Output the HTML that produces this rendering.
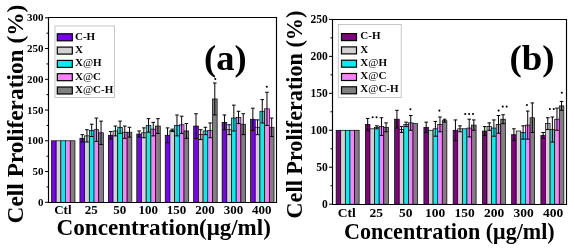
<!DOCTYPE html>
<html><head><meta charset="utf-8"><style>html,body{margin:0;padding:0;background:#fff;width:575px;height:250px;overflow:hidden}svg{display:block;filter:blur(0.35px)}</style></head>
<body><svg width="575" height="250" viewBox="0 0 575 250">
<rect width="575" height="250" fill="#fff"/>
<rect x="51.47" y="140.80" width="4.70" height="61.50" fill="#7b00f0" stroke="#000" stroke-width="0.7"/>
<rect x="56.17" y="140.80" width="4.70" height="61.50" fill="#d2d0d0" stroke="#000" stroke-width="0.7"/>
<rect x="60.87" y="140.80" width="4.70" height="61.50" fill="#00eeee" stroke="#000" stroke-width="0.7"/>
<rect x="65.57" y="140.80" width="4.70" height="61.50" fill="#ff80ff" stroke="#000" stroke-width="0.7"/>
<rect x="70.27" y="140.80" width="4.70" height="61.50" fill="#808080" stroke="#000" stroke-width="0.7"/>
<rect x="79.91" y="138.34" width="4.70" height="63.96" fill="#7b00f0" stroke="#000" stroke-width="0.7"/>
<rect x="84.61" y="135.88" width="4.70" height="66.42" fill="#d2d0d0" stroke="#000" stroke-width="0.7"/>
<rect x="89.31" y="130.35" width="4.70" height="71.95" fill="#00eeee" stroke="#000" stroke-width="0.7"/>
<rect x="94.01" y="129.73" width="4.70" height="72.57" fill="#ff80ff" stroke="#000" stroke-width="0.7"/>
<rect x="98.71" y="132.81" width="4.70" height="69.50" fill="#808080" stroke="#000" stroke-width="0.7"/>
<path d="M82.26 134.65V142.03M80.46 134.65H84.06M80.46 142.03H84.06" stroke="#000" stroke-width="1" fill="none"/>
<path d="M86.96 129.73V142.03M85.16 129.73H88.76M85.16 142.03H88.76" stroke="#000" stroke-width="1" fill="none"/>
<path d="M91.66 124.20V136.50M89.86 124.20H93.46M89.86 136.50H93.46" stroke="#000" stroke-width="1" fill="none"/>
<path d="M96.36 118.05V141.42M94.56 118.05H98.16M94.56 141.42H98.16" stroke="#000" stroke-width="1" fill="none"/>
<path d="M101.06 121.12V144.49M99.26 121.12H102.86M99.26 144.49H102.86" stroke="#000" stroke-width="1" fill="none"/>
<rect x="108.34" y="135.27" width="4.70" height="67.03" fill="#7b00f0" stroke="#000" stroke-width="0.7"/>
<rect x="113.04" y="130.96" width="4.70" height="71.34" fill="#d2d0d0" stroke="#000" stroke-width="0.7"/>
<rect x="117.74" y="127.27" width="4.70" height="75.03" fill="#00eeee" stroke="#000" stroke-width="0.7"/>
<rect x="122.44" y="132.19" width="4.70" height="70.11" fill="#ff80ff" stroke="#000" stroke-width="0.7"/>
<rect x="127.14" y="132.19" width="4.70" height="70.11" fill="#808080" stroke="#000" stroke-width="0.7"/>
<path d="M110.69 131.58V138.96M108.89 131.58H112.49M108.89 138.96H112.49" stroke="#000" stroke-width="1" fill="none"/>
<path d="M115.39 126.04V135.88M113.59 126.04H117.19M113.59 135.88H117.19" stroke="#000" stroke-width="1" fill="none"/>
<path d="M120.09 121.12V133.42M118.29 121.12H121.89M118.29 133.42H121.89" stroke="#000" stroke-width="1" fill="none"/>
<path d="M124.79 126.04V138.34M122.99 126.04H126.59M122.99 138.34H126.59" stroke="#000" stroke-width="1" fill="none"/>
<path d="M129.49 127.27V137.11M127.69 127.27H131.29M127.69 137.11H131.29" stroke="#000" stroke-width="1" fill="none"/>
<rect x="136.78" y="134.04" width="4.70" height="68.26" fill="#7b00f0" stroke="#000" stroke-width="0.7"/>
<rect x="141.48" y="132.81" width="4.70" height="69.50" fill="#d2d0d0" stroke="#000" stroke-width="0.7"/>
<rect x="146.18" y="125.43" width="4.70" height="76.88" fill="#00eeee" stroke="#000" stroke-width="0.7"/>
<rect x="150.88" y="129.12" width="4.70" height="73.19" fill="#ff80ff" stroke="#000" stroke-width="0.7"/>
<rect x="155.58" y="126.04" width="4.70" height="76.26" fill="#808080" stroke="#000" stroke-width="0.7"/>
<path d="M139.13 130.96V137.11M137.33 130.96H140.93M137.33 137.11H140.93" stroke="#000" stroke-width="1" fill="none"/>
<path d="M143.83 127.89V137.72M142.03 127.89H145.63M142.03 137.72H145.63" stroke="#000" stroke-width="1" fill="none"/>
<path d="M148.53 118.66V132.19M146.73 118.66H150.33M146.73 132.19H150.33" stroke="#000" stroke-width="1" fill="none"/>
<path d="M153.23 122.35V135.88M151.43 122.35H155.03M151.43 135.88H155.03" stroke="#000" stroke-width="1" fill="none"/>
<path d="M157.93 118.66V133.42M156.13 118.66H159.73M156.13 133.42H159.73" stroke="#000" stroke-width="1" fill="none"/>
<rect x="165.22" y="135.27" width="4.70" height="67.03" fill="#7b00f0" stroke="#000" stroke-width="0.7"/>
<rect x="169.92" y="130.35" width="4.70" height="71.95" fill="#d2d0d0" stroke="#000" stroke-width="0.7"/>
<rect x="174.62" y="125.43" width="4.70" height="76.88" fill="#00eeee" stroke="#000" stroke-width="0.7"/>
<rect x="179.32" y="124.81" width="4.70" height="77.49" fill="#ff80ff" stroke="#000" stroke-width="0.7"/>
<rect x="184.02" y="130.96" width="4.70" height="71.34" fill="#808080" stroke="#000" stroke-width="0.7"/>
<path d="M167.57 127.89V142.65M165.77 127.89H169.37M165.77 142.65H169.37" stroke="#000" stroke-width="1" fill="none"/>
<path d="M172.27 129.12V131.58M170.47 129.12H174.07M170.47 131.58H174.07" stroke="#000" stroke-width="1" fill="none"/>
<path d="M176.97 114.97V135.88M175.17 114.97H178.77M175.17 135.88H178.77" stroke="#000" stroke-width="1" fill="none"/>
<path d="M181.67 116.20V133.42M179.87 116.20H183.47M179.87 133.42H183.47" stroke="#000" stroke-width="1" fill="none"/>
<path d="M186.37 123.58V138.34M184.57 123.58H188.17M184.57 138.34H188.17" stroke="#000" stroke-width="1" fill="none"/>
<rect x="193.66" y="126.04" width="4.70" height="76.26" fill="#7b00f0" stroke="#000" stroke-width="0.7"/>
<rect x="198.36" y="134.65" width="4.70" height="67.65" fill="#d2d0d0" stroke="#000" stroke-width="0.7"/>
<rect x="203.06" y="130.96" width="4.70" height="71.34" fill="#00eeee" stroke="#000" stroke-width="0.7"/>
<rect x="207.76" y="130.35" width="4.70" height="71.95" fill="#ff80ff" stroke="#000" stroke-width="0.7"/>
<rect x="212.46" y="98.98" width="4.70" height="103.32" fill="#808080" stroke="#000" stroke-width="0.7"/>
<path d="M196.01 113.74V138.34M194.21 113.74H197.81M194.21 138.34H197.81" stroke="#000" stroke-width="1" fill="none"/>
<path d="M200.71 129.73V139.57M198.91 129.73H202.51M198.91 139.57H202.51" stroke="#000" stroke-width="1" fill="none"/>
<path d="M205.41 127.27V134.65M203.61 127.27H207.21M203.61 134.65H207.21" stroke="#000" stroke-width="1" fill="none"/>
<path d="M210.11 122.97V137.73M208.31 122.97H211.91M208.31 137.73H211.91" stroke="#000" stroke-width="1" fill="none"/>
<path d="M214.81 82.99V114.97M213.01 82.99H216.61M213.01 114.97H216.61" stroke="#000" stroke-width="1" fill="none"/>
<rect x="222.09" y="122.35" width="4.70" height="79.95" fill="#7b00f0" stroke="#000" stroke-width="0.7"/>
<rect x="226.79" y="129.73" width="4.70" height="72.57" fill="#d2d0d0" stroke="#000" stroke-width="0.7"/>
<rect x="231.49" y="118.05" width="4.70" height="84.25" fill="#00eeee" stroke="#000" stroke-width="0.7"/>
<rect x="236.19" y="117.43" width="4.70" height="84.87" fill="#ff80ff" stroke="#000" stroke-width="0.7"/>
<rect x="240.89" y="124.20" width="4.70" height="78.11" fill="#808080" stroke="#000" stroke-width="0.7"/>
<path d="M224.44 114.97V129.73M222.64 114.97H226.24M222.64 129.73H226.24" stroke="#000" stroke-width="1" fill="none"/>
<path d="M229.14 124.81V134.65M227.34 124.81H230.94M227.34 134.65H230.94" stroke="#000" stroke-width="1" fill="none"/>
<path d="M233.84 105.13V130.96M232.04 105.13H235.64M232.04 130.96H235.64" stroke="#000" stroke-width="1" fill="none"/>
<path d="M238.54 111.28V123.58M236.74 111.28H240.34M236.74 123.58H240.34" stroke="#000" stroke-width="1" fill="none"/>
<path d="M243.24 113.74V134.65M241.44 113.74H245.04M241.44 134.65H245.04" stroke="#000" stroke-width="1" fill="none"/>
<rect x="250.53" y="119.28" width="4.70" height="83.03" fill="#7b00f0" stroke="#000" stroke-width="0.7"/>
<rect x="255.23" y="127.27" width="4.70" height="75.03" fill="#d2d0d0" stroke="#000" stroke-width="0.7"/>
<rect x="259.93" y="111.28" width="4.70" height="91.02" fill="#00eeee" stroke="#000" stroke-width="0.7"/>
<rect x="264.63" y="108.82" width="4.70" height="93.48" fill="#ff80ff" stroke="#000" stroke-width="0.7"/>
<rect x="269.33" y="127.27" width="4.70" height="75.03" fill="#808080" stroke="#000" stroke-width="0.7"/>
<path d="M252.88 108.21V130.34M251.08 108.21H254.68M251.08 130.34H254.68" stroke="#000" stroke-width="1" fill="none"/>
<path d="M257.58 119.89V134.65M255.78 119.89H259.38M255.78 134.65H259.38" stroke="#000" stroke-width="1" fill="none"/>
<path d="M262.28 99.60V122.97M260.48 99.60H264.08M260.48 122.97H264.08" stroke="#000" stroke-width="1" fill="none"/>
<path d="M266.98 92.22V125.43M265.18 92.22H268.78M265.18 125.43H268.78" stroke="#000" stroke-width="1" fill="none"/>
<path d="M271.68 118.05V136.50M269.88 118.05H273.48M269.88 136.50H273.48" stroke="#000" stroke-width="1" fill="none"/>
<circle cx="215.30" cy="79" r="1.05" fill="#000"/>
<circle cx="266.80" cy="86.7" r="1.05" fill="#000"/>
<path d="M48.5 17.5H276.5V202.5H48.5Z" fill="none" stroke="#000" stroke-width="1.15"/>
<path d="M45.0 202.30H48.5" stroke="#000" stroke-width="1"/>
<text x="43.5" y="205.90" font-family="Liberation Serif" font-weight="bold" font-size="11" text-anchor="end">0</text>
<path d="M46.5 186.93H48.5" stroke="#000" stroke-width="1"/>
<path d="M45.0 171.55H48.5" stroke="#000" stroke-width="1"/>
<text x="43.5" y="175.15" font-family="Liberation Serif" font-weight="bold" font-size="11" text-anchor="end">50</text>
<path d="M46.5 156.18H48.5" stroke="#000" stroke-width="1"/>
<path d="M45.0 140.80H48.5" stroke="#000" stroke-width="1"/>
<text x="43.5" y="144.40" font-family="Liberation Serif" font-weight="bold" font-size="11" text-anchor="end">100</text>
<path d="M46.5 125.43H48.5" stroke="#000" stroke-width="1"/>
<path d="M45.0 110.05H48.5" stroke="#000" stroke-width="1"/>
<text x="43.5" y="113.65" font-family="Liberation Serif" font-weight="bold" font-size="11" text-anchor="end">150</text>
<path d="M46.5 94.68H48.5" stroke="#000" stroke-width="1"/>
<path d="M45.0 79.30H48.5" stroke="#000" stroke-width="1"/>
<text x="43.5" y="82.90" font-family="Liberation Serif" font-weight="bold" font-size="11" text-anchor="end">200</text>
<path d="M46.5 63.93H48.5" stroke="#000" stroke-width="1"/>
<path d="M45.0 48.55H48.5" stroke="#000" stroke-width="1"/>
<text x="43.5" y="52.15" font-family="Liberation Serif" font-weight="bold" font-size="11" text-anchor="end">250</text>
<path d="M46.5 33.18H48.5" stroke="#000" stroke-width="1"/>
<path d="M45.0 17.80H48.5" stroke="#000" stroke-width="1"/>
<text x="43.5" y="21.40" font-family="Liberation Serif" font-weight="bold" font-size="11" text-anchor="end">300</text>
<text x="62.90" y="214.2" font-family="Liberation Serif" font-weight="bold" font-size="13" text-anchor="middle">Ctl</text>
<text x="91.32" y="214.2" font-family="Liberation Serif" font-weight="bold" font-size="13" text-anchor="middle">25</text>
<text x="119.74" y="214.2" font-family="Liberation Serif" font-weight="bold" font-size="13" text-anchor="middle">50</text>
<text x="148.16" y="214.2" font-family="Liberation Serif" font-weight="bold" font-size="13" text-anchor="middle">100</text>
<text x="176.58" y="214.2" font-family="Liberation Serif" font-weight="bold" font-size="13" text-anchor="middle">150</text>
<text x="205.00" y="214.2" font-family="Liberation Serif" font-weight="bold" font-size="13" text-anchor="middle">200</text>
<text x="233.42" y="214.2" font-family="Liberation Serif" font-weight="bold" font-size="13" text-anchor="middle">300</text>
<text x="261.84" y="214.2" font-family="Liberation Serif" font-weight="bold" font-size="13" text-anchor="middle">400</text>
<text x="56.4" y="235.2" font-family="Liberation Serif" font-weight="bold" font-size="23.2">Concentration</text>
<text x="199.0" y="235.2" font-family="Liberation Serif" font-weight="bold" font-size="23">(μg/ml)</text>
<text transform="translate(23.2,223.4) rotate(-90)" font-family="Liberation Serif" font-weight="bold" font-size="23.35">Cell Proliferation (%)</text>
<rect x="55" y="26" width="59.6" height="71.4" fill="#fff" stroke="#b8b8b8" stroke-width="0.8"/>
<rect x="57.3" y="33.80" width="15" height="7" fill="#7b00f0" stroke="#000" stroke-width="1.2"/>
<text x="75" y="39.60" font-family="Liberation Serif" font-weight="bold" font-size="11">C-H</text>
<rect x="57.3" y="47.10" width="15" height="7" fill="#d2d0d0" stroke="#000" stroke-width="1.2"/>
<text x="75" y="52.90" font-family="Liberation Serif" font-weight="bold" font-size="11">X</text>
<rect x="57.3" y="60.40" width="15" height="7" fill="#00eeee" stroke="#000" stroke-width="1.2"/>
<text x="75" y="66.20" font-family="Liberation Serif" font-weight="bold" font-size="11">X<tspan font-weight="normal">@</tspan>H</text>
<rect x="57.3" y="73.70" width="15" height="7" fill="#ff80ff" stroke="#000" stroke-width="1.2"/>
<text x="75" y="79.50" font-family="Liberation Serif" font-weight="bold" font-size="11">X<tspan font-weight="normal">@</tspan>C</text>
<rect x="57.3" y="87.00" width="15" height="7" fill="#808080" stroke="#000" stroke-width="1.2"/>
<text x="75" y="92.80" font-family="Liberation Serif" font-weight="bold" font-size="11">X<tspan font-weight="normal">@</tspan>C-H</text>
<text x="204" y="69.8" font-family="Liberation Serif" font-weight="bold" font-size="36.5">(a)</text>
<rect x="336.12" y="130.28" width="4.60" height="73.92" fill="#800080" stroke="#000" stroke-width="0.7"/>
<rect x="340.73" y="130.28" width="4.60" height="73.92" fill="#d2d0d0" stroke="#000" stroke-width="0.7"/>
<rect x="345.32" y="130.28" width="4.60" height="73.92" fill="#00eeee" stroke="#000" stroke-width="0.7"/>
<rect x="349.93" y="130.28" width="4.60" height="73.92" fill="#ff80ff" stroke="#000" stroke-width="0.7"/>
<rect x="354.52" y="130.28" width="4.60" height="73.92" fill="#808080" stroke="#000" stroke-width="0.7"/>
<rect x="365.38" y="124.37" width="4.60" height="79.83" fill="#800080" stroke="#000" stroke-width="0.7"/>
<rect x="369.98" y="128.80" width="4.60" height="75.40" fill="#d2d0d0" stroke="#000" stroke-width="0.7"/>
<rect x="374.57" y="127.32" width="4.60" height="76.88" fill="#00eeee" stroke="#000" stroke-width="0.7"/>
<rect x="379.18" y="126.58" width="4.60" height="77.62" fill="#ff80ff" stroke="#000" stroke-width="0.7"/>
<rect x="383.77" y="127.32" width="4.60" height="76.88" fill="#808080" stroke="#000" stroke-width="0.7"/>
<path d="M367.68 118.45V130.28M365.88 118.45H369.48M365.88 130.28H369.48" stroke="#000" stroke-width="1" fill="none"/>
<path d="M376.88 125.84V128.80M375.07 125.84H378.68M375.07 128.80H378.68" stroke="#000" stroke-width="1" fill="none"/>
<path d="M381.48 117.71V135.45M379.68 117.71H383.28M379.68 135.45H383.28" stroke="#000" stroke-width="1" fill="none"/>
<path d="M386.07 122.89V131.76M384.27 122.89H387.88M384.27 131.76H387.88" stroke="#000" stroke-width="1" fill="none"/>
<rect x="394.62" y="119.19" width="4.60" height="85.01" fill="#800080" stroke="#000" stroke-width="0.7"/>
<rect x="399.23" y="129.54" width="4.60" height="74.66" fill="#d2d0d0" stroke="#000" stroke-width="0.7"/>
<rect x="403.82" y="124.37" width="4.60" height="79.83" fill="#00eeee" stroke="#000" stroke-width="0.7"/>
<rect x="408.43" y="122.89" width="4.60" height="81.31" fill="#ff80ff" stroke="#000" stroke-width="0.7"/>
<rect x="413.02" y="123.63" width="4.60" height="80.57" fill="#808080" stroke="#000" stroke-width="0.7"/>
<path d="M396.93 110.32V128.06M395.12 110.32H398.73M395.12 128.06H398.73" stroke="#000" stroke-width="1" fill="none"/>
<path d="M401.53 126.58V132.50M399.73 126.58H403.33M399.73 132.50H403.33" stroke="#000" stroke-width="1" fill="none"/>
<path d="M406.12 122.15V126.58M404.32 122.15H407.93M404.32 126.58H407.93" stroke="#000" stroke-width="1" fill="none"/>
<path d="M410.73 115.50V130.28M408.93 115.50H412.53M408.93 130.28H412.53" stroke="#000" stroke-width="1" fill="none"/>
<rect x="423.88" y="127.32" width="4.60" height="76.88" fill="#800080" stroke="#000" stroke-width="0.7"/>
<rect x="428.48" y="130.28" width="4.60" height="73.92" fill="#d2d0d0" stroke="#000" stroke-width="0.7"/>
<rect x="433.07" y="128.80" width="4.60" height="75.40" fill="#00eeee" stroke="#000" stroke-width="0.7"/>
<rect x="437.68" y="124.37" width="4.60" height="79.83" fill="#ff80ff" stroke="#000" stroke-width="0.7"/>
<rect x="442.27" y="120.67" width="4.60" height="83.53" fill="#808080" stroke="#000" stroke-width="0.7"/>
<path d="M426.18 122.15V132.50M424.38 122.15H427.98M424.38 132.50H427.98" stroke="#000" stroke-width="1" fill="none"/>
<path d="M435.38 121.41V136.19M433.57 121.41H437.18M433.57 136.19H437.18" stroke="#000" stroke-width="1" fill="none"/>
<path d="M439.98 116.97V131.76M438.18 116.97H441.78M438.18 131.76H441.78" stroke="#000" stroke-width="1" fill="none"/>
<path d="M444.57 119.19V122.15M442.77 119.19H446.38M442.77 122.15H446.38" stroke="#000" stroke-width="1" fill="none"/>
<rect x="453.12" y="130.28" width="4.60" height="73.92" fill="#800080" stroke="#000" stroke-width="0.7"/>
<rect x="457.73" y="128.80" width="4.60" height="75.40" fill="#d2d0d0" stroke="#000" stroke-width="0.7"/>
<rect x="462.32" y="128.80" width="4.60" height="75.40" fill="#00eeee" stroke="#000" stroke-width="0.7"/>
<rect x="466.93" y="128.06" width="4.60" height="76.14" fill="#ff80ff" stroke="#000" stroke-width="0.7"/>
<rect x="471.52" y="125.11" width="4.60" height="79.09" fill="#808080" stroke="#000" stroke-width="0.7"/>
<path d="M455.43 119.93V140.63M453.62 119.93H457.23M453.62 140.63H457.23" stroke="#000" stroke-width="1" fill="none"/>
<path d="M460.03 125.84V131.76M458.23 125.84H461.83M458.23 131.76H461.83" stroke="#000" stroke-width="1" fill="none"/>
<path d="M469.23 119.19V136.93M467.43 119.19H471.03M467.43 136.93H471.03" stroke="#000" stroke-width="1" fill="none"/>
<path d="M473.82 119.93V130.28M472.02 119.93H475.62M472.02 130.28H475.62" stroke="#000" stroke-width="1" fill="none"/>
<rect x="482.38" y="131.02" width="4.60" height="73.18" fill="#800080" stroke="#000" stroke-width="0.7"/>
<rect x="486.98" y="126.58" width="4.60" height="77.62" fill="#d2d0d0" stroke="#000" stroke-width="0.7"/>
<rect x="491.57" y="128.06" width="4.60" height="76.14" fill="#00eeee" stroke="#000" stroke-width="0.7"/>
<rect x="496.18" y="124.37" width="4.60" height="79.83" fill="#ff80ff" stroke="#000" stroke-width="0.7"/>
<rect x="500.77" y="119.19" width="4.60" height="85.01" fill="#808080" stroke="#000" stroke-width="0.7"/>
<path d="M484.68 126.58V135.45M482.88 126.58H486.48M482.88 135.45H486.48" stroke="#000" stroke-width="1" fill="none"/>
<path d="M489.28 122.89V130.28M487.48 122.89H491.08M487.48 130.28H491.08" stroke="#000" stroke-width="1" fill="none"/>
<path d="M493.88 119.93V136.19M492.07 119.93H495.68M492.07 136.19H495.68" stroke="#000" stroke-width="1" fill="none"/>
<path d="M498.48 115.50V133.24M496.68 115.50H500.28M496.68 133.24H500.28" stroke="#000" stroke-width="1" fill="none"/>
<path d="M503.07 114.76V123.63M501.27 114.76H504.88M501.27 123.63H504.88" stroke="#000" stroke-width="1" fill="none"/>
<rect x="511.62" y="134.72" width="4.60" height="69.48" fill="#800080" stroke="#000" stroke-width="0.7"/>
<rect x="516.23" y="131.02" width="4.60" height="73.18" fill="#d2d0d0" stroke="#000" stroke-width="0.7"/>
<rect x="520.83" y="132.50" width="4.60" height="71.70" fill="#00eeee" stroke="#000" stroke-width="0.7"/>
<rect x="525.42" y="125.11" width="4.60" height="79.09" fill="#ff80ff" stroke="#000" stroke-width="0.7"/>
<rect x="530.02" y="117.71" width="4.60" height="86.49" fill="#808080" stroke="#000" stroke-width="0.7"/>
<path d="M513.92 128.80V140.63M512.12 128.80H515.72M512.12 140.63H515.72" stroke="#000" stroke-width="1" fill="none"/>
<path d="M523.12 125.84V139.15M521.33 125.84H524.92M521.33 139.15H524.92" stroke="#000" stroke-width="1" fill="none"/>
<path d="M527.72 111.06V139.15M525.92 111.06H529.52M525.92 139.15H529.52" stroke="#000" stroke-width="1" fill="none"/>
<path d="M532.32 102.93V132.50M530.52 102.93H534.12M530.52 132.50H534.12" stroke="#000" stroke-width="1" fill="none"/>
<rect x="540.88" y="135.45" width="4.60" height="68.75" fill="#800080" stroke="#000" stroke-width="0.7"/>
<rect x="545.48" y="123.63" width="4.60" height="80.57" fill="#d2d0d0" stroke="#000" stroke-width="0.7"/>
<rect x="550.08" y="129.54" width="4.60" height="74.66" fill="#00eeee" stroke="#000" stroke-width="0.7"/>
<rect x="554.67" y="119.19" width="4.60" height="85.01" fill="#ff80ff" stroke="#000" stroke-width="0.7"/>
<rect x="559.27" y="105.89" width="4.60" height="98.31" fill="#808080" stroke="#000" stroke-width="0.7"/>
<path d="M543.17 132.50V138.41M541.38 132.50H544.97M541.38 138.41H544.97" stroke="#000" stroke-width="1" fill="none"/>
<path d="M547.77 117.71V129.54M545.98 117.71H549.57M545.98 129.54H549.57" stroke="#000" stroke-width="1" fill="none"/>
<path d="M552.38 116.97V142.11M550.58 116.97H554.17M550.58 142.11H554.17" stroke="#000" stroke-width="1" fill="none"/>
<path d="M556.97 108.10V130.28M555.17 108.10H558.77M555.17 130.28H558.77" stroke="#000" stroke-width="1" fill="none"/>
<path d="M561.57 101.45V110.32M559.77 101.45H563.37M559.77 110.32H563.37" stroke="#000" stroke-width="1" fill="none"/>
<circle cx="372.65" cy="117.2" r="1.05" fill="#000"/>
<circle cx="376.55" cy="117.2" r="1.05" fill="#000"/>
<circle cx="410.40" cy="109.2" r="1.05" fill="#000"/>
<circle cx="439.40" cy="110.6" r="1.05" fill="#000"/>
<circle cx="465.20" cy="114" r="1.05" fill="#000"/>
<circle cx="469.10" cy="114" r="1.05" fill="#000"/>
<circle cx="473.00" cy="114" r="1.05" fill="#000"/>
<circle cx="498.60" cy="110.6" r="1.05" fill="#000"/>
<circle cx="502.75" cy="106.6" r="1.05" fill="#000"/>
<circle cx="506.65" cy="106.6" r="1.05" fill="#000"/>
<circle cx="526.90" cy="105" r="1.05" fill="#000"/>
<circle cx="549.85" cy="109" r="1.05" fill="#000"/>
<circle cx="553.75" cy="109" r="1.05" fill="#000"/>
<circle cx="561.80" cy="92.7" r="1.05" fill="#000"/>
<path d="M332.5 19.5H566.5V204.5H332.5Z" fill="none" stroke="#000" stroke-width="1.15"/>
<path d="M329.0 204.20H332.5" stroke="#000" stroke-width="1"/>
<text x="327.8" y="208.00" font-family="Liberation Serif" font-weight="bold" font-size="11.5" text-anchor="end">0</text>
<path d="M330.5 185.72H332.5" stroke="#000" stroke-width="1"/>
<path d="M329.0 167.24H332.5" stroke="#000" stroke-width="1"/>
<text x="327.8" y="171.04" font-family="Liberation Serif" font-weight="bold" font-size="11.5" text-anchor="end">50</text>
<path d="M330.5 148.76H332.5" stroke="#000" stroke-width="1"/>
<path d="M329.0 130.28H332.5" stroke="#000" stroke-width="1"/>
<text x="327.8" y="134.08" font-family="Liberation Serif" font-weight="bold" font-size="11.5" text-anchor="end">100</text>
<path d="M330.5 111.80H332.5" stroke="#000" stroke-width="1"/>
<path d="M329.0 93.32H332.5" stroke="#000" stroke-width="1"/>
<text x="327.8" y="97.12" font-family="Liberation Serif" font-weight="bold" font-size="11.5" text-anchor="end">150</text>
<path d="M330.5 74.84H332.5" stroke="#000" stroke-width="1"/>
<path d="M329.0 56.36H332.5" stroke="#000" stroke-width="1"/>
<text x="327.8" y="60.16" font-family="Liberation Serif" font-weight="bold" font-size="11.5" text-anchor="end">200</text>
<path d="M330.5 37.88H332.5" stroke="#000" stroke-width="1"/>
<path d="M329.0 19.40H332.5" stroke="#000" stroke-width="1"/>
<text x="327.8" y="23.20" font-family="Liberation Serif" font-weight="bold" font-size="11.5" text-anchor="end">250</text>
<text x="346.70" y="217.2" font-family="Liberation Serif" font-weight="bold" font-size="13.5" text-anchor="middle">Ctl</text>
<text x="376.20" y="217.2" font-family="Liberation Serif" font-weight="bold" font-size="13.5" text-anchor="middle">25</text>
<text x="405.70" y="217.2" font-family="Liberation Serif" font-weight="bold" font-size="13.5" text-anchor="middle">50</text>
<text x="435.20" y="217.2" font-family="Liberation Serif" font-weight="bold" font-size="13.5" text-anchor="middle">100</text>
<text x="464.70" y="217.2" font-family="Liberation Serif" font-weight="bold" font-size="13.5" text-anchor="middle">150</text>
<text x="494.20" y="217.2" font-family="Liberation Serif" font-weight="bold" font-size="13.5" text-anchor="middle">200</text>
<text x="523.70" y="217.2" font-family="Liberation Serif" font-weight="bold" font-size="13.5" text-anchor="middle">300</text>
<text x="553.20" y="217.2" font-family="Liberation Serif" font-weight="bold" font-size="13.5" text-anchor="middle">400</text>
<text x="344" y="238.6" font-family="Liberation Serif" font-weight="bold" font-size="22.1">Concentration (μg/ml)</text>
<text transform="translate(302.4,218.4) rotate(-90)" font-family="Liberation Serif" font-weight="bold" font-size="22.2">Cell Proliferation (%)</text>
<rect x="338.3" y="24.5" width="62.9" height="73.1" fill="#fff" stroke="#b8b8b8" stroke-width="0.8"/>
<rect x="341.5" y="33.60" width="15" height="7" fill="#800080" stroke="#000" stroke-width="1.2"/>
<text x="360.3" y="39.20" font-family="Liberation Serif" font-weight="bold" font-size="11">C-H</text>
<rect x="341.5" y="46.90" width="15" height="7" fill="#d2d0d0" stroke="#000" stroke-width="1.2"/>
<text x="360.3" y="52.50" font-family="Liberation Serif" font-weight="bold" font-size="11">X</text>
<rect x="341.5" y="60.20" width="15" height="7" fill="#00eeee" stroke="#000" stroke-width="1.2"/>
<text x="360.3" y="65.80" font-family="Liberation Serif" font-weight="bold" font-size="11">X<tspan font-weight="normal">@</tspan>H</text>
<rect x="341.5" y="73.50" width="15" height="7" fill="#ff80ff" stroke="#000" stroke-width="1.2"/>
<text x="360.3" y="79.10" font-family="Liberation Serif" font-weight="bold" font-size="11">X<tspan font-weight="normal">@</tspan>C</text>
<rect x="341.5" y="86.80" width="15" height="7" fill="#808080" stroke="#000" stroke-width="1.2"/>
<text x="360.3" y="92.40" font-family="Liberation Serif" font-weight="bold" font-size="11">X<tspan font-weight="normal">@</tspan>C-H</text>
<text x="509.6" y="70.3" font-family="Liberation Serif" font-weight="bold" font-size="36.8">(b)</text>
</svg></body></html>
